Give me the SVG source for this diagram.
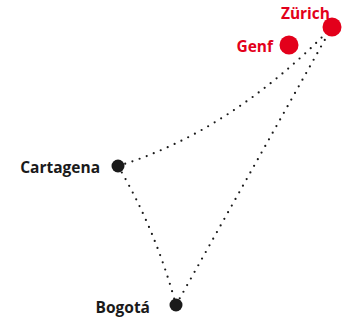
<svg xmlns="http://www.w3.org/2000/svg" width="352" height="322" viewBox="0 0 352 322">
<style>
.route{fill:none;stroke:#1a1a1a;stroke-width:2.2;stroke-linecap:round;stroke-dasharray:0 7.6}
.lbl{font-family:"Open Sans","Liberation Sans",sans-serif;font-weight:700;font-size:15.5px;text-anchor:end}
.red{fill:#e3001b}
.blk{fill:#1a1a1a}
</style>
<rect width="352" height="322" fill="#ffffff"/>
<g id="connectors">
<path class="route" d="M118,166 Q231,131.5 332,27"/>
<path class="route" d="M176,305 L332,27"/>
<path class="route" d="M118,166 Q155,228 176,305"/>
</g>
<g id="cartagena">
<circle class="blk" cx="118" cy="166" r="6.5"/>
<text class="lbl blk" x="100" y="172.5">Cartagena</text>
</g>
<g id="bogota">
<circle class="blk" cx="176" cy="305" r="6.5"/>
<text class="lbl blk" x="150" y="312.5">Bogotá</text>
</g>
<g id="genf">
<circle class="red" cx="289" cy="45" r="9.5"/>
<text class="lbl red" x="273" y="52">Genf</text>
</g>
<g id="zurich">
<circle class="red" cx="332" cy="27" r="9.5"/>
<text class="lbl red" x="330" y="19">Zürich</text>
</g>
</svg>
